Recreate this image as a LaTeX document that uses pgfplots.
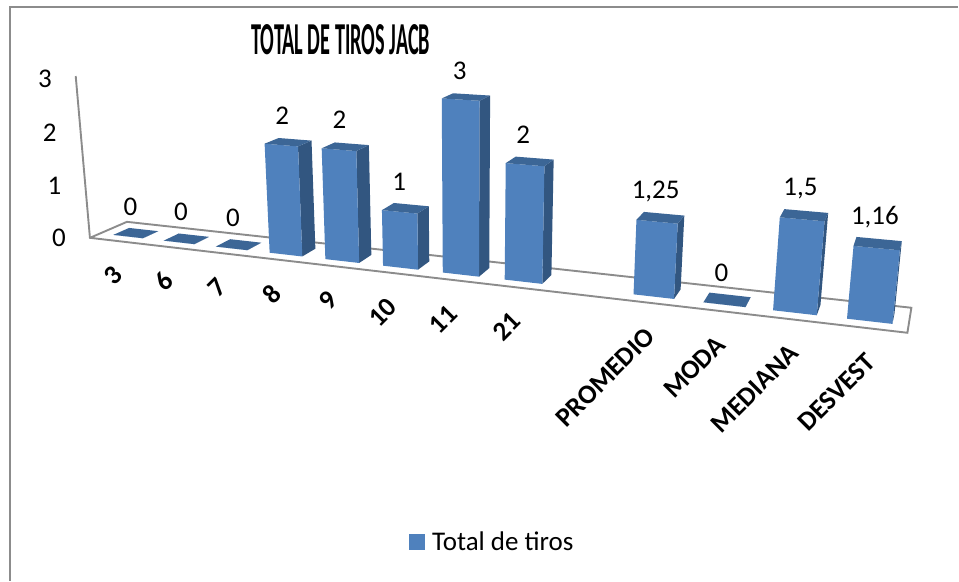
\documentclass[border=0pt]{standalone}
\usepackage{fontspec}
\setmainfont{Carlito}
\usepackage{graphicx}
\usepackage{pgfplots}
\pgfplotsset{compat=1.18}

\definecolor{frente}{HTML}{4F81BD}
\definecolor{lado}{HTML}{325680}
\definecolor{tapa}{HTML}{3C6696}
\definecolor{linea}{HTML}{8C8C8C}

% proyeccion: ranura c (0..13), profundidad d (0..1), valor z
\pgfplotsset{
  table/proy/.style={
    x expr={px((#1+0.56+\thisrow{s}*0.295)/13,\thisrow{d},\thisrow{v})},
    y expr={py((#1+0.56+\thisrow{s}*0.295)/13,\thisrow{d},\thisrow{v})}},
  cara/.style={fill=#1,draw=none,forget plot},
  etiqueta/.style={only marks,mark=none,forget plot,nodes near coords,
    point meta=explicit symbolic,clip=false}
}

\newcommand{\barra}[2]{%
  \addplot[cara=lado] table[proy={#1},row sep=\\] {s d v\\ 1 0.27 0\\ 1 0.7 0\\ 1 0.7 #2\\ 1 0.27 #2\\};
  \addplot[cara=frente] table[proy={#1},row sep=\\] {s d v\\ -1 0.27 0\\ 1 0.27 0\\ 1 0.27 #2\\ -1 0.27 #2\\};
  \addplot[cara=tapa] table[proy={#1},row sep=\\] {s d v\\ -1 0.27 #2\\ 1 0.27 #2\\ 1 0.7 #2\\ -1 0.7 #2\\};
}

\begin{document}
\begin{tikzpicture}
\begin{axis}[
    scale only axis,
    width=959pt, height=581pt,
    xmin=0, xmax=959,
    ymin=0, ymax=581,
    y dir=reverse,
    hide axis,
    clip=false,
    declare function={
      pw(\u,\d,\z)=1-0.2117*\u+0.04312*\d-0.0119*\z;
      px(\u,\d,\z)=(625.8*\u+42.48*\d+90-5.57*\z)/pw(\u,\d,\z);
      py(\u,\d,\z)=(24.5*\u-6.43*\d+238-54*\z)/pw(\u,\d,\z);
    },
    legend style={at={(axis cs:491.5,542)},anchor=center,draw=none,fill=none,
      inner sep=0pt,font=\fontsize{27}{29}\selectfont,
      nodes={inner sep=0pt,outer sep=0pt}},
    legend cell align=left,
]
% marco del grafico
\addplot[linea,line width=1.4pt,forget plot] coordinates {(10,7)(959,7)};
\addplot[linea,line width=2pt,forget plot] coordinates {(10,581)(10,6.3)};

% piso y eje de valores
\addplot[linea,line width=1.9pt,forget plot] table[
    x expr={px(\thisrow{u},\thisrow{d},\thisrow{v})},
    y expr={py(\thisrow{u},\thisrow{d},\thisrow{v})},row sep=\\]
    {u d v\\ 0 0 3.05\\ 0 0 0\\ 1 0 0\\ 1 1 0\\ 0 1 0\\ 0 0 0\\};

% barras: ranura, valor
\barra{0}{0}
\barra{1}{0}
\barra{2}{0}
\barra{3}{2}
\barra{4}{2}
\barra{5}{1}
\barra{6}{3}
\barra{7}{2}
\barra{8.97}{1.25}
\barra{9.98}{0}
\barra{10.95}{1.5}
\barra{11.94}{1.16}

% etiquetas de valor
\addplot[etiqueta,nodes near coords style={anchor=center,yshift=26pt,xshift=-3pt,
    font=\fontsize{27}{29}\selectfont}]
  table[row sep=\\,meta=et,
    x expr={px((\thisrow{c}+0.5)/13,0.5,\thisrow{v})},
    y expr={py((\thisrow{c}+0.5)/13,0.5,\thisrow{v})}]
  {c v et\\ 0 0 0\\ 1 0 0\\ 2 0 0\\ 3 2 2\\ 4 2 2\\ 5 1 1\\ 6 3 3\\ 7 2 2\\
   9 1.25 {1,25}\\ 10 0 0\\ 11 1.5 {1,5}\\ 12 1.16 {1,16}\\};

% etiquetas del eje de valores
\addplot[etiqueta,nodes near coords style={anchor=center,xshift=-31pt,
    font=\fontsize{27}{29}\selectfont}]
  table[row sep=\\,meta=et,x expr={px(0,0,\thisrow{v})},y expr={py(0,0,\thisrow{v})}]
  {v et\\ 0 0\\ 1 1\\ 2 2\\ 3 3\\};

% categorias
\addplot[etiqueta,nodes near coords style={anchor=north east,rotate=45,
    inner sep=0pt,yshift=-14pt,xshift=-19pt,
    font=\bfseries\fontsize{27}{29}\selectfont}]
  table[row sep=\\,meta=et,x expr={px((\thisrow{c}+0.5)/13,0,0)},y expr={py((\thisrow{c}+0.5)/13,0,0)}]
  {c et\\ 0 3\\ 1 6\\ 2 7\\ 3 8\\ 4 9\\ 5 10\\ 6 11\\ 7 21\\ 9 PROMEDIO\\ 10 MODA\\ 11 MEDIANA\\ 12 DESVEST\\};

\addlegendimage{legend image code/.code={\fill[frente] (0pt,-7.5pt) rectangle (15pt,7.5pt);}}
\addlegendentry{\hspace{8pt}Total de tiros}

\node[inner sep=0pt] at (axis cs:341,40) {\resizebox{179pt}{30pt}{\bfseries TOTAL DE TIROS JACB}};
\path (axis cs:0,0) rectangle (axis cs:959,581);
\end{axis}
\end{tikzpicture}
\end{document}
